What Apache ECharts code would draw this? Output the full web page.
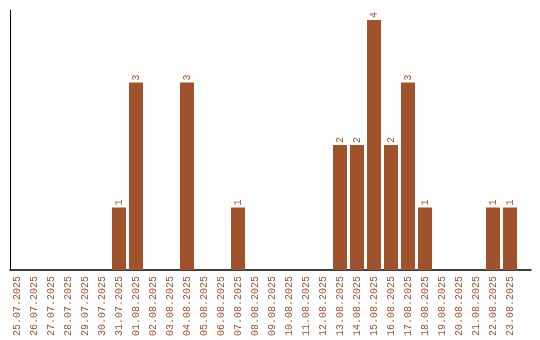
<!DOCTYPE html>
<html>
<head>
<meta charset="utf-8">
<script src="https://cdn.jsdelivr.net/npm/echarts@6/dist/echarts.min.js"></script>
<style>html,body{margin:0;padding:0;background:#fff;}#c{width:540px;height:340px;}</style>
</head>
<body>
<div id="c"></div>
<script>
const categories = ['25.07.2025','26.07.2025','27.07.2025','28.07.2025','29.07.2025','30.07.2025','31.07.2025','01.08.2025','02.08.2025','03.08.2025','04.08.2025','05.08.2025','06.08.2025','07.08.2025','08.08.2025','09.08.2025','10.08.2025','11.08.2025','12.08.2025','13.08.2025','14.08.2025','15.08.2025','16.08.2025','17.08.2025','18.08.2025','19.08.2025','20.08.2025','21.08.2025','22.08.2025','23.08.2025'];
const counts = [0,0,0,0,0,0,1,3,0,0,3,0,0,1,0,0,0,0,0,2,2,4,2,3,1,0,0,0,1,1];

const color = '#a0522d';
const font = 'Liberation Mono';
const chart = echarts.init(document.getElementById('c'), null, {renderer:'canvas'});
chart.setOption({
  animation: false,
  backgroundColor: '#fff',
  grid: [
    {left: 8.5, top: 10, width: 510, height: 260},
    {left: 10, top: 10, width: 521, height: 260}
  ],
  xAxis: [
    {type: 'category', gridIndex: 0, data: categories,
     axisLine: {show: false}, axisTick: {show: false},
     axisLabel: {rotate: 90, interval: 0, margin: 6, color: color, fontFamily: font, fontSize: 10}},
    {type: 'value', gridIndex: 1, min: 0, max: 1,
     axisLine: {show: true, lineStyle: {color: '#000', width: 1.5}},
     axisTick: {show: false}, axisLabel: {show: false}, splitLine: {show: false}}
  ],
  yAxis: [
    {type: 'value', gridIndex: 0, min: 0, max: 4.16,
     axisLine: {show: false}, axisTick: {show: false}, axisLabel: {show: false}, splitLine: {show: false}},
    {type: 'value', gridIndex: 1, min: 0, max: 1,
     axisLine: {show: true, lineStyle: {color: '#000', width: 1}},
     axisTick: {show: false}, axisLabel: {show: false}, splitLine: {show: false}}
  ],
  series: [{
    type: 'bar', xAxisIndex: 0, yAxisIndex: 0,
    data: counts.map(v => v === 0 ? null : v),
    barWidth: 14,
    itemStyle: {color: color},
    label: {show: true, position: 'top', distance: 2, rotate: 90, align: 'left', verticalAlign: 'middle',
            color: color, fontFamily: font, fontSize: 10}
  }]
});
</script>
</body>
</html>
